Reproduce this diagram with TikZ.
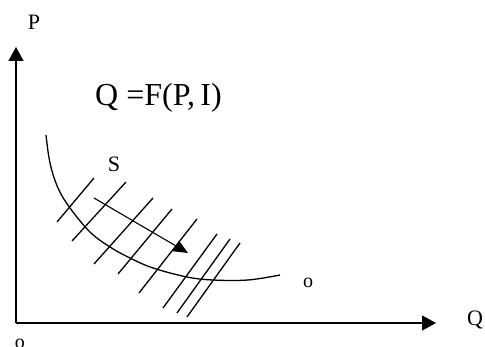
\documentclass[tikz,border=0pt]{standalone}
\usepackage{fontspec}
\setmainfont{Liberation Serif}
\usetikzlibrary{arrows.meta}
\begin{document}
\begin{tikzpicture}[x=1pt,y=-1pt,
  axisline/.style={line width=1.4pt,-{Triangle[length=14pt,width=15pt]}},
  thinline/.style={line width=1.3pt},
  movearrow/.style={line width=1.1pt,-{Triangle[length=14pt,width=12pt]}},
  lbl/.style={font=\fontsize{22}{26}\selectfont,inner sep=0pt,anchor=base},
  smalllbl/.style={font=\fontsize{20}{24}\selectfont,inner sep=0pt,anchor=base},
  formula/.style={font=\fontsize{32}{38}\selectfont,inner sep=0pt,anchor=base west}]
\useasboundingbox (0,0) rectangle (485,347);
% axes
\coordinate (orig) at (16,323);
\coordinate (ptop) at (16,47);
\coordinate (qend) at (436,323);
\draw[axisline] (orig) -- (ptop);
\draw[axisline] (orig) -- (qend);
% labels
\node[lbl] (lp) at (34,30) {P};
\node[lbl] (lq) at (475,326) {Q};
\node[smalllbl] (lo) at (20,349) {o};
\node[smalllbl] (lo2) at (308,288) {o};
\node[lbl] (ls) at (114,172) {S};
\node[formula] (f) at (95,106) {Q =F(P,\,I)};
% curve
\draw[thinline] plot[smooth,tension=0.6] coordinates {(46,135) (50,163) (58,188) (70,208) (90,232) (110,247) (130,258) (153,268) (187,277) (213,280) (248,280) (280,275)};
% hatch lines
\draw[thinline] (57,222) -- (94,178);
\draw[thinline] (72,241) -- (126,182);
\draw[thinline] (94,264) -- (153,198);
\draw[thinline] (118,274) -- (172,209);
\draw[thinline] (139,293) -- (197,219);
\draw[thinline] (163,308) -- (217,234);
\draw[thinline] (177,313) -- (230,239);
\draw[thinline] (187,317) -- (240,243);
% shift arrow
\coordinate (sa) at (94,198);
\coordinate (sb) at (188,253);
\draw[movearrow] (sa) -- (sb);
\end{tikzpicture}
\end{document}
